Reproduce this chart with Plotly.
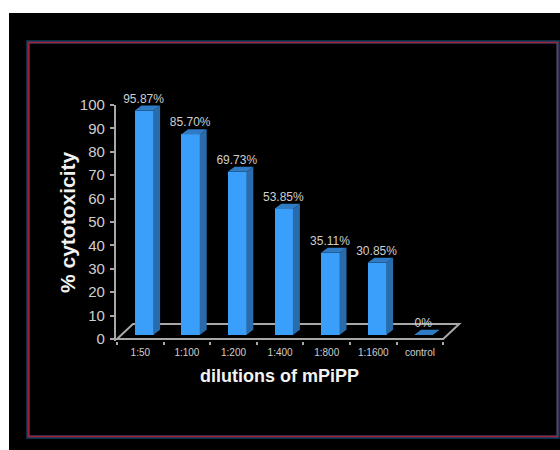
import plotly.graph_objects as go

categories = ["1:50", "1:100", "1:200", "1:400", "1:800", "1:1600", "control"]
values = [95.87, 85.70, 69.73, 53.85, 35.11, 30.85, 0]
labels = ["95.87%", "85.70%", "69.73%", "53.85%", "35.11%", "30.85%", "0%"]
y_ticks = list(range(0, 101, 10))

W, H = 560, 450
PX_X = 46.6          # pixels per category
PX_Y = 2.34          # pixels per percent
X0, Y0 = 117, 339    # axes origin inside the figure
XMIN, XMAX, YMIN, YMAX = -0.03, 7.42, -1.0, 100

BAR_W = 0.40
BAR_OFF = 0.575
BASE = 1.7           # front face is lifted off the floor edge
DX, DY = 0.15, 2.2   # 3D extrusion of a bar
FLOOR_DX, FLOOR_DY = 0.343, 6.4

FRONT, SIDE, TOP = "#3a9ffb", "#2a6cab", "#2f7cc4"
GREY, TEXT = "#a8a8a8", "#cfcfcf"
FONT = "Liberation Sans, Arial, sans-serif"


def px(x):
    return x / W


def py(y):
    return 1 - y / H


centers = [i + BAR_OFF for i in range(len(values))]

fig = go.Figure()

fig.add_trace(go.Bar(x=centers, y=values, base=BASE, width=BAR_W,
                     marker=dict(color=FRONT, line=dict(width=0)),
                     showlegend=False, hoverinfo="skip"))

side_x, side_y, top_x, top_y = [], [], [], []
for c, v in zip(centers, values):
    l, r, b, t = c - BAR_W / 2, c + BAR_W / 2, BASE, BASE + v
    side_x += [r, r + DX, r + DX, r, r, None]
    side_y += [b, b + DY, t + DY, t, b, None]
    top_x += [l, l + DX, r + DX, r, l, None]
    top_y += [t, t + DY, t + DY, t, t, None]

fig.add_trace(go.Scatter(x=side_x, y=side_y, mode="lines", fill="toself", fillcolor=SIDE,
                         line=dict(width=0, color=SIDE), showlegend=False, hoverinfo="skip"))
fig.add_trace(go.Scatter(x=top_x, y=top_y, mode="lines", fill="toself", fillcolor=TOP,
                         line=dict(width=0, color=TOP), showlegend=False, hoverinfo="skip"))
fig.add_trace(go.Scatter(x=[c + DX / 2 - 0.08 for c in centers],
                         y=[v + BASE + DY for v in values],
                         mode="text", text=labels, textposition="top center",
                         textfont=dict(family=FONT, size=12, color=TEXT),
                         cliponaxis=False, showlegend=False, hoverinfo="skip"))

floor_path = (f"M 0 0 L 7 0 L {7 + FLOOR_DX} {FLOOR_DY} "
              f"L {FLOOR_DX} {FLOOR_DY} Z")

shapes = [
    dict(type="rect", xref="paper", yref="paper", x0=px(9), x1=1, y0=0, y1=py(13),
         fillcolor="#000000", line=dict(width=0), layer="below"),
    dict(type="rect", xref="paper", yref="paper", x0=px(28), x1=px(558),
         y0=py(437), y1=py(42),
         line=dict(color="#123f5c", width=3.5), layer="below"),
    dict(type="rect", xref="paper", yref="paper", x0=px(28.5), x1=px(557.5),
         y0=py(436.5), y1=py(42.5),
         line=dict(color="#a3203c", width=1.5), layer="below"),
    dict(type="path", xref="x", yref="y", path=floor_path,
         line=dict(color=GREY, width=2), layer="below"),
]

annotations = [
    dict(text="<b>dilutions of mPiPP</b>", xref="paper", yref="paper",
         x=px(279), y=py(376), xanchor="center", yanchor="middle", showarrow=False,
         font=dict(family=FONT, size=18, color="#f2f2f2")),
    dict(text="<b>% cytotoxicity</b>", xref="paper", yref="paper",
         x=px(67), y=py(222), xanchor="center", yanchor="middle", showarrow=False,
         textangle=-90, font=dict(family=FONT, size=21, color="#f2f2f2")),
]

fig.update_layout(
    width=W, height=H, autosize=False,
    margin=dict(l=0, r=0, t=0, b=0, pad=0),
    paper_bgcolor="#ffffff", plot_bgcolor="rgba(0,0,0,0)",
    font=dict(family=FONT, color=TEXT),
    shapes=shapes, annotations=annotations, bargap=0,
    xaxis=dict(
        domain=[(X0 + XMIN * PX_X) / W, (X0 + XMAX * PX_X) / W],
        range=[XMIN, XMAX], showgrid=False, zeroline=False, showline=False,
        automargin=False,
        tickmode="array", tickvals=[i + 0.5 for i in range(len(categories))],
        ticktext=categories, ticks="", ticklen=0, ticklabelstandoff=4,
        tickfont=dict(family=FONT, size=10, color=TEXT),
        minor=dict(tickmode="array", tickvals=list(range(len(categories) + 1)),
                   ticks="outside", ticklen=3, tickwidth=1.5, tickcolor=GREY, showgrid=False),
    ),
    yaxis=dict(
        domain=[(H - Y0 + YMIN * PX_Y) / H, (H - Y0 + YMAX * PX_Y) / H],
        range=[YMIN, YMAX], showgrid=False, zeroline=False, automargin=False,
        showline=True, linecolor=GREY, linewidth=1.5,
        tickmode="array", tickvals=y_ticks, ticks="outside", ticklen=4, tickwidth=1.5,
        ticklabelstandoff=2,
        tickcolor=GREY, tickfont=dict(family=FONT, size=15, color=TEXT),
    ),
)

fig.write_html("out.html", config={"displayModeBar": False},
               post_script="document.body.style.margin='0';")
